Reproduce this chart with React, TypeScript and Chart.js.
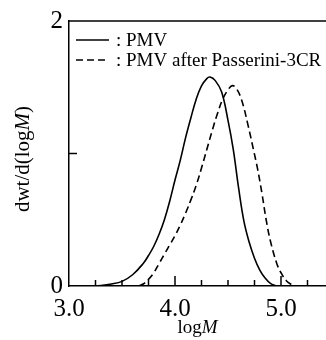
import React, { useEffect, useRef } from 'react';
import { Chart, registerables } from 'chart.js';

Chart.register(...registerables);

// PMV (solid)
const pmvLogM = [3.2, 3.3, 3.4, 3.5, 3.6, 3.7, 3.75, 3.8, 3.85, 3.9, 3.95, 4.0, 4.05, 4.1, 4.15, 4.2, 4.25, 4.3, 4.33, 4.38, 4.44, 4.5, 4.55, 4.6, 4.65, 4.7, 4.75, 4.8, 4.85, 4.9, 4.96];
const pmvValues = [0, 0.004, 0.015, 0.035, 0.085, 0.17, 0.23, 0.3, 0.39, 0.5, 0.64, 0.8, 0.95, 1.12, 1.27, 1.41, 1.51, 1.565, 1.577, 1.55, 1.464, 1.25, 1.03, 0.74, 0.49, 0.33, 0.21, 0.12, 0.06, 0.02, 0];

// PMV after Passerini-3CR (dashed)
const passLogM = [3.66, 3.7, 3.75, 3.8, 3.85, 3.9, 3.95, 4.0, 4.05, 4.1, 4.15, 4.2, 4.25, 4.3, 4.35, 4.4, 4.45, 4.5, 4.54, 4.58, 4.63, 4.69, 4.74, 4.78, 4.82, 4.86, 4.9, 4.96, 5.0, 5.05, 5.1, 5.13];
const passValues = [0, 0.015, 0.05, 0.1, 0.17, 0.24, 0.31, 0.38, 0.46, 0.55, 0.65, 0.76, 0.89, 1.03, 1.17, 1.3, 1.41, 1.48, 1.512, 1.49, 1.4, 1.21, 1.03, 0.88, 0.7, 0.5, 0.34, 0.17, 0.1, 0.04, 0.01, 0];

// axis ticks
const xLabelTicks = [3, 4, 5];
const xMajorTicks = [4, 5];
const xMinorTicks = [3.25, 3.5, 3.75, 4.25, 4.5, 4.75, 5.25];
const yLabelTicks = [0, 2];
const yMinorTicks = [1];

const legendLabels = [': PMV', ': PMV after Passerini-3CR'];
const xTitleParts = ['log', 'M'];
const yTitleParts = ['dwt/d(log', 'M', ')'];

const SERIF = '"Liberation Serif", "Times New Roman", serif';
const DASH = [7, 4];

const decorPlugin = {
  id: 'decor',
  afterDraw(chart: any) {
    const { ctx, chartArea, scales } = chart;
    const x = scales.x;
    const y = scales.y;
    ctx.save();
    ctx.strokeStyle = '#000';
    ctx.lineWidth = 1.5;
    // top frame line
    ctx.beginPath();
    ctx.moveTo(chartArea.left, chartArea.top);
    ctx.lineTo(chartArea.right, chartArea.top);
    ctx.stroke();
    // inward ticks on x axis
    const bottom = chartArea.bottom;
    xMajorTicks.forEach((v) => {
      const px = x.getPixelForValue(v);
      ctx.beginPath();
      ctx.moveTo(px, bottom);
      ctx.lineTo(px, bottom - 10);
      ctx.stroke();
    });
    xMinorTicks.forEach((v) => {
      const px = x.getPixelForValue(v);
      ctx.beginPath();
      ctx.moveTo(px, bottom);
      ctx.lineTo(px, bottom - 6);
      ctx.stroke();
    });
    yMinorTicks.forEach((v) => {
      const py = y.getPixelForValue(v);
      ctx.beginPath();
      ctx.moveTo(chartArea.left, py);
      ctx.lineTo(chartArea.left + 8, py);
      ctx.stroke();
    });

    // legend
    const lx0 = chartArea.left + 7;
    const lx1 = chartArea.left + 40;
    const tx = chartArea.left + 47;
    const rows = [chartArea.top + 19, chartArea.top + 39];
    ctx.fillStyle = '#000';
    ctx.font = `19px ${SERIF}`;
    ctx.textBaseline = 'middle';
    ctx.textAlign = 'left';
    rows.forEach((ry, i) => {
      ctx.setLineDash(i === 0 ? [] : DASH);
      ctx.beginPath();
      ctx.moveTo(lx0, ry);
      ctx.lineTo(lx1, ry);
      ctx.stroke();
      ctx.fillText(legendLabels[i], tx, ry + 1);
    });
    ctx.setLineDash([]);

    // x title
    const regular = `19px ${SERIF}`;
    const italic = `italic 19px ${SERIF}`;
    ctx.textBaseline = 'alphabetic';
    ctx.font = regular;
    const w0 = ctx.measureText(xTitleParts[0]).width;
    ctx.font = italic;
    const w1 = ctx.measureText(xTitleParts[1]).width;
    const cx = (chartArea.left + chartArea.right) / 2;
    const sx = cx - (w0 + w1) / 2;
    const by = 333;
    ctx.font = regular;
    ctx.fillText(xTitleParts[0], sx, by);
    ctx.font = italic;
    ctx.fillText(xTitleParts[1], sx + w0, by);

    // y title (rotated)
    const yReg = `21px ${SERIF}`;
    const yIt = `italic 21px ${SERIF}`;
    const fonts = [yReg, yIt, yReg];
    const widths = yTitleParts.map((t, i) => {
      ctx.font = fonts[i];
      return ctx.measureText(t).width;
    });
    const total = widths.reduce((a, b) => a + b, 0);
    ctx.translate(29, 159);
    ctx.rotate(-Math.PI / 2);
    let p = -total / 2;
    yTitleParts.forEach((t, i) => {
      ctx.font = fonts[i];
      ctx.fillText(t, p, 0);
      p += widths[i];
    });
    ctx.restore();
  },
};

export default function App() {
  const ref = useRef<HTMLCanvasElement | null>(null);

  useEffect(() => {
    if (!ref.current) return;
    const chart = new Chart(ref.current, {
      type: 'line',
      data: {
        datasets: [
          {
            label: 'PMV',
            data: pmvLogM.map((v, i) => ({ x: v, y: pmvValues[i] })),
            borderColor: '#000',
            borderWidth: 1.6,
            pointRadius: 0,
            fill: false,
            tension: 0.4,
          },
          {
            label: 'PMV after Passerini-3CR',
            data: passLogM.map((v, i) => ({ x: v, y: passValues[i] })),
            borderColor: '#000',
            borderWidth: 1.6,
            borderDash: DASH,
            pointRadius: 0,
            fill: false,
            tension: 0.4,
          },
        ],
      },
      options: {
        animation: false,
        responsive: false,
        maintainAspectRatio: false,
        layout: { padding: { top: 21, right: 0, left: 0, bottom: 0 } },
        plugins: {
          legend: { display: false },
          tooltip: { enabled: false },
        },
        scales: {
          x: {
            type: 'linear',
            min: 3,
            max: 3 + 257 / 106,
            grid: { display: false, drawTicks: false },
            border: { display: true, color: '#000', width: 1.5 },
            afterBuildTicks: (scale: any) => {
              scale.ticks = xLabelTicks.map((v) => ({ value: v }));
            },
            afterFit: (scale: any) => {
              scale.height = 54;
            },
            ticks: {
              autoSkip: false,
              maxRotation: 0,
              padding: 8,
              color: '#000',
              font: { family: SERIF, size: 25 },
              callback: (v: any) => Number(v).toFixed(1),
            },
          },
          y: {
            type: 'linear',
            min: 0,
            max: 2,
            grid: { display: false, drawTicks: false },
            border: { display: true, color: '#000', width: 1.5 },
            afterBuildTicks: (scale: any) => {
              scale.ticks = yLabelTicks.map((v) => ({ value: v }));
            },
            afterFit: (scale: any) => {
              scale.width = 69;
            },
            ticks: {
              autoSkip: false,
              padding: 6,
              color: '#000',
              font: { family: SERIF, size: 25 },
              callback: (v: any) => String(v),
            },
          },
        },
      },
      plugins: [decorPlugin],
    });
    return () => chart.destroy();
  }, []);

  return (
    <div style={{ position: 'absolute', left: 0, top: 0, width: 326, height: 340, background: '#fff' }}>
      <canvas ref={ref} width={326} height={340} style={{ width: 326, height: 340, display: 'block' }} />
    </div>
  );
}
